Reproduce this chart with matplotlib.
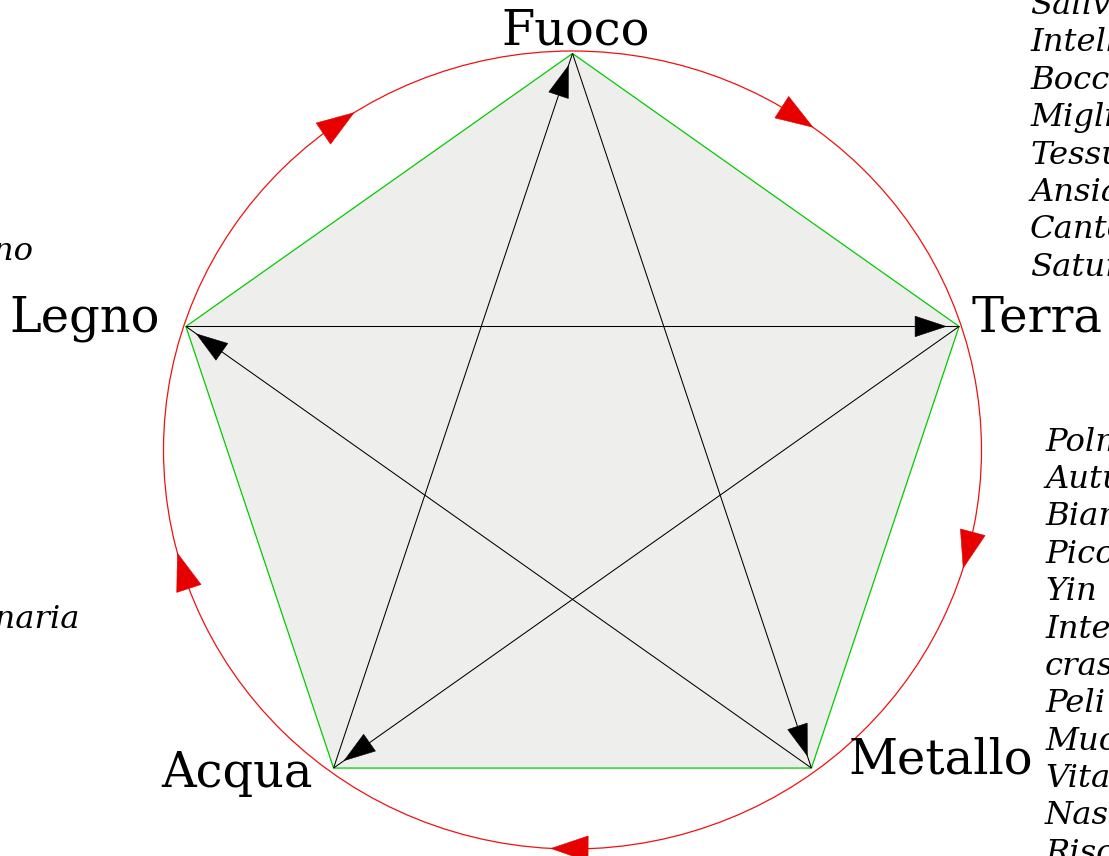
import numpy as np
import matplotlib
matplotlib.use("Agg")
import matplotlib.pyplot as plt
from matplotlib.patches import Polygon, Ellipse

# ---------------- data ----------------
elements = ["Fuoco", "Terra", "Metallo", "Acqua", "Legno"]
vertex_angles = [90, 18, -54, -126, 162]          # position of each element on the wheel (deg)

# generating (sheng) cycle: red circle arrows, tip angle on the circle
generating = [("Legno", "Fuoco"), ("Fuoco", "Terra"), ("Terra", "Metallo"),
              ("Metallo", "Acqua"), ("Acqua", "Legno")]
generating_tip_angles = [122.3, 54.0, -17.2, -93.0, 195.0]

# controlling (ke) cycle: black star arrows
controlling = [("Fuoco", "Metallo"), ("Metallo", "Legno"), ("Legno", "Terra"),
               ("Terra", "Acqua"), ("Acqua", "Fuoco")]

terra_list = ["Milza", "Fine estate", "Giallo", "Dolce", "Yin e Yang", "Stomaco",
              "Muscoli", "Saliva", "Intelletto", "Bocca", "Miglio", "Tessuto",
              "Ansia", "Canto", "Saturno"]
metallo_list = ["Polmoni", "Autunno", "Bianco", "Piccante", "Yin", "Intestino",
                "crasso", "Peli", "Muco", "Vitalità", "Naso", "Riso",
                "Tristezza", "Pianto", "Venere"]
legno_list = ["Fegato", "Primavera", "Verde", "Acido", "Yang", "Cistifellea",
              "Tendini", "Lacrime", "Anima", "Occhi", "Grano", "Collera, sdegno",
              "Urlo", "Giove"]
acqua_list = ["Reni", "Inverno", "Nero", "Salato", "Yin", "Vescica urinaria",
              "Ossa", "Urina", "Volontà", "Orecchie", "Fagioli", "Paura",
              "Gemito", "Mercurio"]

# ---------------- layout / style ----------------
W, H = 1109, 856
CX, CY = 572.5, 448.5
PRX, PRY = 406.5, 395.0        # pentagon radii
CCX, CCY = 572.5, 450.0
CRX, CRY = 409.0, 399.0        # circle radii

FILL = "#eeeeec"
GREEN = "#00cc00"
RED_LINE = "#ee1111"
RED_HEAD = "#e60000"

fig = plt.figure(figsize=(W / 100, H / 100), dpi=100)
ax = fig.add_axes([0, 0, 1, 1])
ax.set_xlim(0, W)
ax.set_ylim(H, 0)
ax.axis("off")


def vpos(ang):
    a = np.radians(ang)
    return np.array([CX + PRX * np.cos(a), CY - PRY * np.sin(a)])


def cpos(ang):
    a = np.radians(ang)
    return np.array([CCX + CRX * np.cos(a), CCY - CRY * np.sin(a)])


V = {e: vpos(a) for e, a in zip(elements, vertex_angles)}


def head(tip, d, length, width, color, z):
    d = np.asarray(d, float)
    d = d / np.linalg.norm(d)
    n = np.array([-d[1], d[0]])
    base = tip - d * length
    pts = [tip, base + n * width / 2, base - n * width / 2]
    ax.add_patch(Polygon(pts, closed=True, facecolor=color, edgecolor=color,
                         lw=0.4, zorder=z))


# pentagon
pent = np.array([V[e] for e in elements])
ax.add_patch(Polygon(pent, closed=True, facecolor=FILL, edgecolor=GREEN,
                     lw=0.9, zorder=1))

# circle
ax.add_patch(Ellipse((CCX, CCY), 2 * CRX, 2 * CRY, facecolor="none",
                     edgecolor=RED_LINE, lw=0.9, zorder=2))
for (a, b), tang in zip(generating, generating_tip_angles):
    tip = cpos(tang)
    back = cpos(tang + 5.2)
    head(tip, tip - back, 37, 25.5, RED_HEAD, 3)

# controlling star
for a, b in controlling:
    pa, pb = V[a], V[b]
    ax.plot([pa[0], pb[0]], [pa[1], pb[1]], color="black", lw=0.75, zorder=4,
            solid_capstyle="butt")
    u = (pb - pa) / np.linalg.norm(pb - pa)
    head(pb - u * 13, u, 31, 20.5, "black", 5)

# element labels
label_pos = {"Fuoco": (575.5, 44.5, "center"), "Terra": (972, 331, "left"),
             "Metallo": (849, 774, "left"), "Acqua": (313, 787, "right"),
             "Legno": (160, 332, "right")}
for e in elements:
    x, y, ha = label_pos[e]
    ax.text(x, y, e, fontsize=34.5, family="DejaVu Serif", ha=ha, va="baseline",
            zorder=6)

# association lists
STEP = 37.4
FS = 23.2


def list_left(items, x, y0):
    for i, s in enumerate(items):
        ax.text(x, y0 + i * STEP, s, fontsize=FS, family="DejaVu Serif",
                style="italic", ha="left", va="baseline", zorder=6)


def list_right_block(items, xr, y0):
    ts = [ax.text(0, y0 + i * STEP, s, fontsize=FS, family="DejaVu Serif",
                  style="italic", ha="left", va="baseline", zorder=6)
          for i, s in enumerate(items)]
    r = fig.canvas.get_renderer()
    wmax = max(t.get_window_extent(r).width for t in ts)
    for t in ts:
        t.set_x(xr - wmax)


list_left(terra_list, 1030, 14.0 - 7 * STEP)
list_left(metallo_list, 1045, 450.5)
list_right_block(legno_list, 33, 260 - 11 * STEP)
list_right_block(acqua_list, 79, 628 - 5 * STEP)

fig.savefig("out.png", dpi=100, facecolor="white")
